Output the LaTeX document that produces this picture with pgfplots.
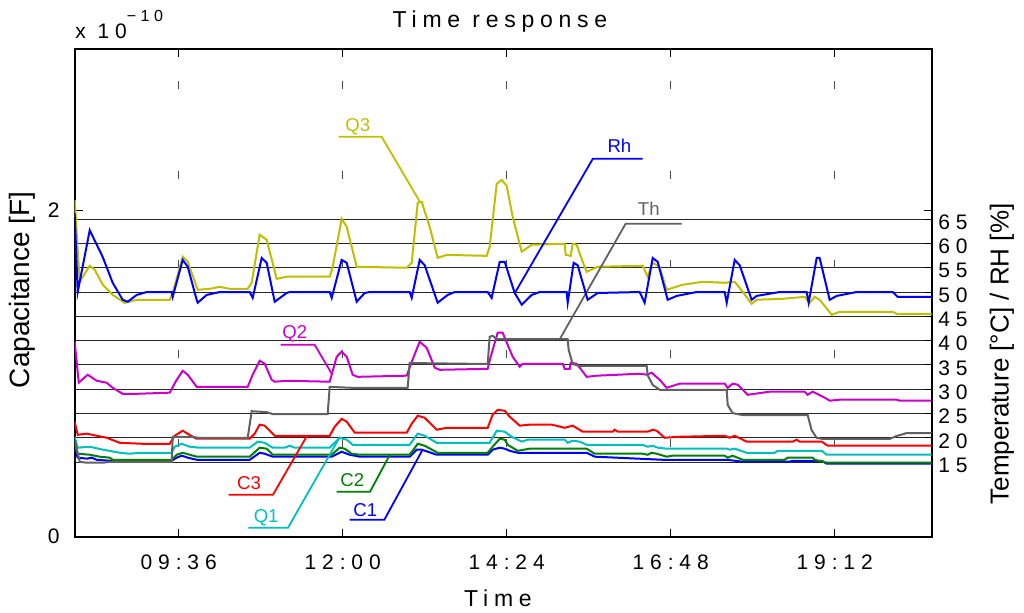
\documentclass[border=0pt]{standalone}
\usepackage{pgfplots}
\pgfplotsset{compat=1.18}
\usepackage{pgfplotstable}
\usepackage{fontspec}
\setmainfont{Liberation Sans}
\newfontfamily\spacedT[LetterSpace=28]{Liberation Sans}
\newfontfamily\spacedL[LetterSpace=25]{Liberation Sans}
\definecolor{mC1}{rgb}{0,0,1}
\definecolor{mC2}{rgb}{0,0.5,0}
\definecolor{mC3}{rgb}{1,0,0}
\definecolor{mQ1}{rgb}{0,0.75,0.75}
\definecolor{mQ2}{rgb}{0.8,0,0.8}
\definecolor{mQ3}{rgb}{0.75,0.75,0}
\definecolor{mTh}{rgb}{0.38,0.38,0.38}
\definecolor{mRh}{rgb}{0,0,1}

% x: time of day in hours; capacitances in units of 1e-10 F
\pgfplotstableread{
x y
8.078 0.545
8.122 0.484
8.254 0.478
8.327 0.484
8.400 0.471
8.590 0.465
9.498 0.465
9.571 0.484
9.644 0.496
9.732 0.484
9.863 0.471
10.639 0.471
10.785 0.514
10.859 0.508
10.976 0.490
11.839 0.490
11.985 0.520
12.102 0.502
12.249 0.490
12.980 0.490
13.083 0.533
13.156 0.533
13.376 0.502
14.122 0.502
14.195 0.533
14.298 0.545
14.371 0.539
14.444 0.526
14.561 0.514
15.571 0.514
15.688 0.490
16.683 0.471
17.620 0.471
17.854 0.459
18.541 0.459
18.585 0.465
19.010 0.465
19.083 0.447
20.619 0.447
}\tabCone
\pgfplotstableread{
x y
8.078 0.563
8.122 0.508
8.298 0.502
8.444 0.490
8.590 0.484
8.634 0.471
9.498 0.471
9.571 0.502
9.659 0.514
9.761 0.502
9.863 0.490
10.639 0.490
10.785 0.545
10.888 0.539
10.976 0.502
11.839 0.502
11.956 0.545
12.029 0.539
12.132 0.508
12.249 0.502
12.980 0.502
13.098 0.569
13.200 0.557
13.390 0.514
14.122 0.514
14.195 0.551
14.298 0.600
14.371 0.594
14.415 0.563
14.561 0.526
14.737 0.539
15.571 0.539
15.688 0.508
16.390 0.508
16.463 0.502
16.522 0.514
16.595 0.508
16.741 0.490
16.829 0.496
17.590 0.496
17.634 0.484
17.707 0.496
17.854 0.471
18.468 0.471
18.512 0.484
18.878 0.484
18.907 0.471
19.083 0.453
20.619 0.453
}\tabCtwo
\pgfplotstableread{
x y
8.078 0.704
8.122 0.624
8.254 0.631
8.400 0.618
8.546 0.606
8.737 0.575
9.073 0.569
9.468 0.569
9.541 0.618
9.659 0.649
9.805 0.612
9.863 0.600
10.639 0.600
10.712 0.631
10.785 0.686
10.859 0.680
11.005 0.618
11.810 0.618
11.883 0.673
11.985 0.722
12.059 0.704
12.176 0.637
12.937 0.637
13.010 0.692
13.098 0.741
13.200 0.728
13.376 0.655
13.522 0.667
14.122 0.667
14.195 0.747
14.268 0.777
14.371 0.771
14.444 0.735
14.590 0.680
14.737 0.686
15.059 0.686
15.249 0.667
15.366 0.680
15.512 0.643
15.951 0.643
15.980 0.655
16.024 0.643
16.463 0.643
16.537 0.655
16.595 0.649
16.712 0.606
16.932 0.612
17.590 0.618
17.663 0.606
17.737 0.618
17.912 0.582
18.585 0.582
18.644 0.594
18.688 0.582
19.010 0.582
19.098 0.557
20.619 0.557
}\tabCthree
\pgfplotstableread{
x y
8.078 0.612
8.122 0.545
8.298 0.551
8.488 0.533
8.737 0.514
8.883 0.508
9.029 0.514
9.498 0.514
9.541 0.551
9.644 0.569
9.761 0.551
9.907 0.545
10.639 0.545
10.756 0.582
10.859 0.575
10.976 0.545
11.151 0.545
11.224 0.557
11.298 0.545
11.810 0.545
11.956 0.606
12.059 0.594
12.146 0.563
12.980 0.563
13.098 0.631
13.200 0.618
13.376 0.575
14.151 0.575
14.254 0.649
14.371 0.643
14.473 0.612
14.620 0.582
14.707 0.594
15.249 0.594
15.293 0.575
15.366 0.588
15.468 0.582
15.571 0.563
16.390 0.563
16.463 0.551
16.537 0.557
16.610 0.545
16.741 0.539
17.620 0.539
17.663 0.533
17.737 0.539
17.912 0.514
18.322 0.514
18.366 0.526
19.010 0.526
19.083 0.502
20.619 0.502
}\tabQone
\pgfplotstableread{
x y
8.078 1.194
8.137 0.943
8.268 0.992
8.400 0.955
8.546 0.943
8.634 0.912
8.780 0.875
8.985 0.875
9.468 0.882
9.571 0.961
9.659 1.016
9.732 0.992
9.863 0.918
10.610 0.918
10.683 0.992
10.785 1.077
10.859 1.059
10.961 0.961
11.005 0.949
11.180 0.955
11.810 0.949
11.912 1.102
11.985 1.133
12.059 1.102
12.146 0.992
12.219 0.979
12.937 0.986
13.010 1.071
13.127 1.194
13.229 1.157
13.346 1.035
13.420 1.022
14.122 1.028
14.166 1.102
14.268 1.249
14.341 1.249
14.488 1.102
14.590 1.041
14.634 1.059
15.220 1.059
15.249 1.028
15.322 1.028
15.337 1.065
15.424 1.059
15.571 0.979
15.717 0.986
16.346 0.998
16.449 0.992
16.522 1.004
16.639 0.961
16.741 0.912
16.932 0.937
17.590 0.937
17.634 0.912
17.707 0.937
17.780 0.931
17.927 0.869
18.249 0.888
18.761 0.888
18.805 0.869
18.878 0.888
19.083 0.845
19.127 0.833
19.273 0.839
20.107 0.839
20.151 0.833
20.619 0.833
}\tabQtwo
\pgfplotstableread{
x y
8.078 2.063
8.151 1.561
8.298 1.659
8.371 1.635
8.488 1.543
8.634 1.481
8.810 1.432
8.985 1.451
9.468 1.451
9.512 1.494
9.659 1.714
9.732 1.684
9.878 1.512
10.054 1.518
10.200 1.530
10.346 1.518
10.610 1.518
10.668 1.555
10.785 1.849
10.888 1.818
11.034 1.579
11.180 1.592
11.810 1.592
11.854 1.653
11.985 1.947
12.059 1.898
12.205 1.653
12.937 1.647
13.010 1.677
13.098 2.045
13.156 2.051
13.273 1.898
13.390 1.708
13.522 1.726
14.107 1.720
14.151 1.775
14.254 2.161
14.327 2.185
14.400 2.149
14.488 1.959
14.620 1.745
14.766 1.788
15.249 1.794
15.263 1.726
15.337 1.720
15.366 1.794
15.424 1.788
15.512 1.684
15.571 1.622
15.732 1.653
16.390 1.659
16.463 1.592
16.537 1.677
16.639 1.653
16.741 1.512
16.976 1.543
17.268 1.561
17.590 1.555
17.737 1.561
17.854 1.500
17.985 1.426
18.058 1.451
18.439 1.457
18.761 1.469
18.834 1.432
18.907 1.469
18.980 1.451
19.156 1.359
19.273 1.377
20.049 1.377
20.107 1.365
20.619 1.365
}\tabQthree
% temperature [deg C]
\pgfplotstableread{
x y
8.078 19.6
8.151 15.1
8.254 14.9
8.488 14.9
8.590 15.1
9.498 15.1
9.512 20.2
9.805 20.2
9.907 20.0
10.610 20.0
10.668 25.5
10.888 25.3
10.976 24.9
11.780 24.9
11.810 30.5
12.146 30.3
12.951 30.3
12.980 35.4
14.122 35.2
14.151 40.8
14.195 41.0
14.254 40.3
15.293 40.3
15.307 38.1
15.366 35.2
15.468 34.8
16.449 34.8
16.463 32.9
16.537 30.9
16.639 29.9
17.620 29.9
17.634 26.8
17.707 25.1
17.854 24.7
18.805 24.7
18.863 21.6
18.937 20.0
19.024 19.8
20.005 19.8
20.107 20.4
20.254 21.0
20.619 21.0
}\tabTh
% relative humidity [%]
\pgfplotstableread{
x y
8.078 66.2
8.122 50.0
8.298 62.7
8.488 57.2
8.634 51.9
8.780 48.4
8.854 48.0
8.985 49.4
9.132 50.0
9.498 50.0
9.512 49.0
9.659 56.6
9.732 55.2
9.863 48.4
9.878 47.8
10.010 49.4
10.200 50.0
10.639 50.0
10.683 48.8
10.815 57.0
10.888 56.0
11.005 48.0
11.180 49.8
11.224 50.0
11.810 50.0
11.839 48.8
11.985 56.6
12.059 56.0
12.205 48.0
12.322 49.8
12.395 50.0
12.980 50.0
13.010 48.8
13.127 56.6
13.200 55.5
13.390 47.8
13.537 49.4
13.639 50.0
14.122 50.0
14.180 48.8
14.298 56.2
14.371 56.2
14.517 49.8
14.620 47.4
14.766 49.4
14.883 50.0
15.278 50.0
15.293 47.8
15.380 56.0
15.439 55.5
15.585 48.4
15.732 49.8
16.346 50.0
16.419 47.8
16.537 57.0
16.610 56.2
16.756 48.4
16.888 49.2
17.181 50.0
17.590 50.0
17.620 47.8
17.737 56.6
17.810 55.5
17.985 48.4
18.058 49.2
18.395 50.0
18.790 50.0
18.819 47.8
18.937 57.0
18.980 57.0
19.127 48.4
19.229 49.2
19.522 50.0
20.049 50.0
20.122 49.0
20.619 49.0
}\tabRh

\pgfplotsset{
  common/.style={
    scale only axis, width=428.5pt, height=243.7pt,
    at={(0pt,0pt)}, anchor=south west,
    xmin=8.078, xmax=20.62,
  },
}

\begin{document}
\begin{tikzpicture}
\useasboundingbox (-37.35pt,-38.15pt) rectangle (474.65pt,268.35pt);

% right axis: grid lines and ticks
\begin{axis}[common,
  ymin=-0.3, ymax=99.9,
  axis x line=none, axis y line*=right,
  axis line style={black, line width=1pt},
  ytick={15,20,...,65},
  ymajorgrids, major grid style={black!85, line width=0.5pt},
  tick align=inside, major tick length=3.5pt,
  tick style={black, line width=0.5pt},
  /pgf/number format/assume math mode=true,
  yticklabel style={font=\fontsize{10.5}{12}\spacedT, anchor=west, inner sep=0pt, xshift=3.15pt, yshift=-1.5pt},
]
\addplot[draw=none] coordinates {(10,50)};
\end{axis}

% left axis: capacitances
\begin{axis}[common,
  ymin=0, ymax=2.985,
  axis line style={black, line width=1pt},
  xtick={9.6,12,14.4,16.8,19.2},
  xticklabels={09:36,12:00,14:24,16:48,19:12},
  ytick={0,2},
  xtick pos=both, ytick pos=both,
  tick align=inside, major tick length=4pt,
  tick style={black, line width=0.6pt},
  xmajorgrids, major grid style={black!70, line width=0.6pt, dash pattern=on 4pt off 40.75pt},
  /pgf/number format/assume math mode=true,
  xticklabel style={font=\fontsize{10.5}{12}\spacedT, anchor=base, inner sep=0pt, yshift=-16.65pt},
  yticklabel style={font=\fontsize{10.5}{12}\spacedT, anchor=east, inner sep=0pt, xshift=-7.35pt},
  every axis plot/.append style={line width=1pt},
]
\addplot[mC1] table {\tabCone};
\addplot[mC2] table {\tabCtwo};
\addplot[mC3] table {\tabCthree};
\addplot[mQ1] table {\tabQone};
\addplot[mQ2] table {\tabQtwo};
\addplot[mQ3] table {\tabQthree};
% labels with leader lines
\begin{scope}[line width=0.9pt, font=\fontsize{9.3}{11}\selectfont]
\draw[mQ3] (axis cs:11.94,2.449) -- (axis cs:12.57,2.449) -- (axis cs:13.13,2.051);
\node[mQ3, anchor=base, inner sep=0pt] at (axis cs:12.22,2.479) {Q3};
\draw[mRh] (axis cs:16.39,2.314) -- (axis cs:15.66,2.314) -- (axis cs:14.53,1.500);
\node[mRh, anchor=base, inner sep=0pt] at (axis cs:16.05,2.351) {Rh};
\draw[mTh] (axis cs:16.96,1.916) -- (axis cs:16.14,1.916) -- (axis cs:15.18,1.212);
\node[mTh, anchor=base, inner sep=0pt] at (axis cs:16.48,1.965) {Th};
\draw[mQ2] (axis cs:11.09,1.175) -- (axis cs:11.59,1.175) -- (axis cs:11.84,0.998);
\node[mQ2, anchor=base, inner sep=0pt] at (axis cs:11.30,1.212) {Q2};
\draw[mC3] (axis cs:10.33,0.257) -- (axis cs:10.98,0.257) -- (axis cs:11.47,0.612);
\node[mC3, anchor=base, inner sep=0pt] at (axis cs:10.63,0.288) {C3};
\draw[mQ1] (axis cs:10.62,0.055) -- (axis cs:11.20,0.055) -- (axis cs:11.96,0.612);
\node[mQ1, anchor=base, inner sep=0pt] at (axis cs:10.88,0.086) {Q1};
\draw[mC2] (axis cs:11.91,0.275) -- (axis cs:12.40,0.275) -- (axis cs:12.69,0.502);
\node[mC2, anchor=base, inner sep=0pt] at (axis cs:12.14,0.306) {C2};
\draw[mC1] (axis cs:12.10,0.104) -- (axis cs:12.61,0.104) -- (axis cs:13.17,0.533);
\node[mC1, anchor=base, inner sep=0pt] at (axis cs:12.33,0.122) {C1};
\end{scope}
\end{axis}

% right axis: temperature and humidity
\begin{axis}[common,
  ymin=-0.3, ymax=99.9,
  hide axis,
  every axis plot/.append style={line width=1pt},
]
\addplot[mTh] table {\tabTh};
\addplot[mRh] table {\tabRh};
\end{axis}

% texts around the axes
\node[anchor=base, inner sep=0pt, font=\fontsize{11.5}{13}\spacedL] at (212.65pt,254.35pt) {Time response};
\node[anchor=base, inner sep=0pt, font=\fontsize{11.5}{13}\spacedL] at (211.65pt,-35.15pt) {Time};
\node[anchor=base west, inner sep=0pt, font=\fontsize{10.5}{12}\spacedT] at (0.15pt,249.2pt) {x 10\raisebox{8.3pt}{\fontsize{8}{9}\spacedT −10}};
\node[rotate=90, inner sep=0pt, font=\fontsize{14}{16}\selectfont] at (-26.35pt,123.35pt) {Capacitance [F]};
\node[rotate=90, inner sep=0pt, font=\fontsize{13}{15}\selectfont] at (463.65pt,91.35pt) {Temperature [°C] / RH [\%]};
\end{tikzpicture}
\end{document}
